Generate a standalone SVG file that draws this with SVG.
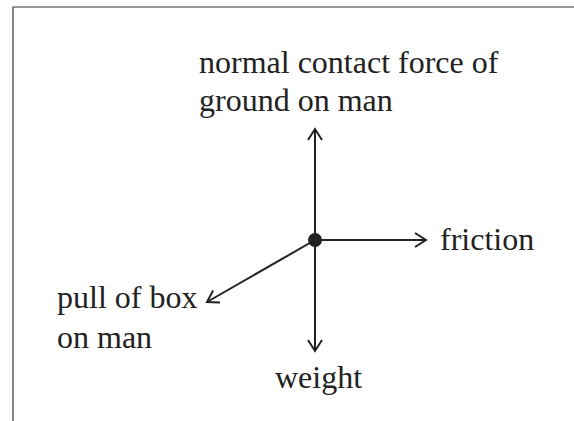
<svg xmlns="http://www.w3.org/2000/svg" width="574" height="421" viewBox="0 0 574 421">
<defs>
<style>
text{font-family:'Liberation Serif','Times New Roman',serif;font-size:32px;fill:#222}
.c{stroke:#222;stroke-width:2;fill:none}
</style>
<marker id="a" viewBox="-12 -8 14 16" markerWidth="14" markerHeight="16" refX="0" refY="0" orient="auto" markerUnits="userSpaceOnUse">
<path d="M-11,-7 L0,0 L-11,7" fill="none" stroke="#222" stroke-width="2"/>
</marker>
</defs>
<rect width="574" height="421" fill="#fff"/>
<path d="M13,421 V7 H574" fill="none" stroke="#333" stroke-width="1.2"/>
<g id="connectors">
<line class="c" x1="315" y1="240" x2="315" y2="129" marker-end="url(#a)"/>
<line class="c" x1="315" y1="240" x2="426" y2="240" marker-end="url(#a)"/>
<line class="c" x1="315" y1="240" x2="315" y2="351" marker-end="url(#a)"/>
<line class="c" x1="315" y1="240" x2="207" y2="302" marker-end="url(#a)"/>
</g>
<g id="point"><circle cx="315" cy="240" r="7" fill="#222"/></g>
<g id="normal"><text x="199" y="73">normal contact force of</text><text x="199" y="111">ground on man</text></g>
<g id="friction"><text x="440" y="250">friction</text></g>
<g id="pull"><text x="57" y="308">pull of box</text><text x="57" y="348">on man</text></g>
<g id="weight"><text x="275" y="388">weight</text></g>
</svg>
